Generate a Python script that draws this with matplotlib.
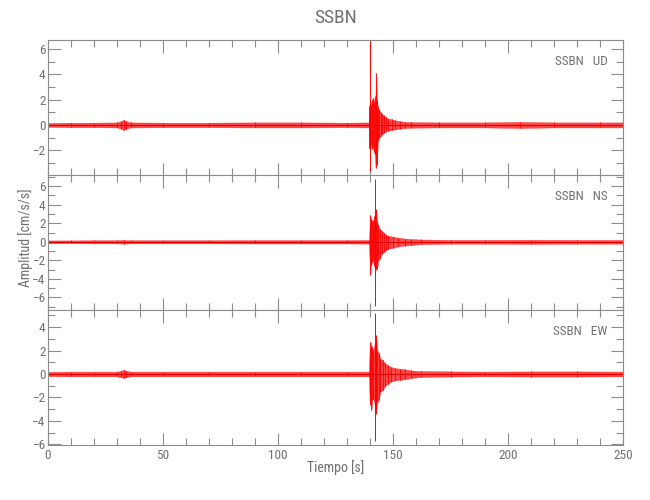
#Recreate the SSBN three-component accelerogram (UD, NS, EW)
#1. Envelope values. 2. Three stacked panels. 3. Axes styling. 4. Save.
import matplotlib
matplotlib.use("Agg")
import matplotlib.pyplot as plt
from matplotlib import font_manager
from matplotlib.ticker import MultipleLocator

# narrow, thin font if one is installed
names = {f.name for f in font_manager.fontManager.ttflist}
narrow = [n for n in ['Liberation Sans Narrow', 'Roboto Condensed', 'DejaVu Sans Condensed',
                      'Open Sans Condensed', 'Noto Sans Condensed'] if n in names]
if narrow:
    plt.rcParams['font.family'] = [narrow[0], 'DejaVu Sans']
else:
    plt.rcParams['font.family'] = ['Noto Sans', 'DejaVu Sans']
    plt.rcParams['font.stretch'] = 'condensed'
    plt.rcParams['font.weight'] = 'light'

# Step 1: data (time in s, upper / lower envelope in cm/s/s)
station = "SSBN"
components = ["UD", "NS", "EW"]

ud_t = [0, 10, 20, 30, 32, 33, 34, 36, 50, 70, 90, 110, 130, 139.4,
        139.7, 140.0, 140.4, 140.8, 141.2, 141.6, 142.0, 142.4, 142.7, 143.0,
        143.4, 144.0, 144.6, 145.2, 146.0, 147.0, 148.0, 149.5, 151.0, 153.0,
        155.0, 158.0, 170, 190, 205, 220, 240, 250]
ud_top = [0.15, 0.18, 0.18, 0.2, 0.3, 0.42, 0.3, 0.2, 0.18, 0.18, 0.2, 0.2, 0.18, 0.2,
          1.5, 1.8, 1.6, 2.0, 2.1, 1.8, 2.2, 2.4, 4.1, 2.0,
          1.4, 1.2, 1.0, 0.85, 0.75, 0.6, 0.5, 0.45, 0.35, 0.3,
          0.25, 0.22, 0.2, 0.2, 0.24, 0.2, 0.2, 0.2]
ud_bot = [-0.15, -0.18, -0.18, -0.2, -0.3, -0.42, -0.3, -0.2, -0.18, -0.18, -0.2, -0.2, -0.18, -0.2,
          -1.8, -2.0, -1.5, -1.9, -1.7, -2.1, -2.3, -3.4, -2.8, -3.2,
          -1.3, -1.0, -0.9, -0.75, -0.65, -0.5, -0.45, -0.4, -0.35, -0.3,
          -0.25, -0.22, -0.2, -0.2, -0.24, -0.2, -0.2, -0.2]

ns_t = [0, 10, 20, 30, 33, 36, 50, 70, 90, 110, 130, 139.5,
        139.9, 140.1, 140.5, 141.0, 141.5, 141.9, 142.3, 142.7, 143.1, 143.6,
        144.2, 145.0, 146.0, 147.0, 148.0, 150.0, 152.0, 155.0, 158.0, 162.0,
        175, 190, 210, 230, 250]
ns_top = [0.15, 0.15, 0.17, 0.17, 0.2, 0.17, 0.17, 0.17, 0.18, 0.18, 0.18, 0.2,
          2.0, 2.9, 2.5, 2.2, 2.3, 2.8, 3.2, 3.5, 2.1, 1.8,
          1.4, 1.2, 1.0, 0.75, 0.65, 0.55, 0.45, 0.35, 0.3, 0.25,
          0.2, 0.2, 0.22, 0.2, 0.2]
ns_bot = [-0.15, -0.15, -0.17, -0.17, -0.2, -0.17, -0.17, -0.17, -0.18, -0.18, -0.18, -0.2,
          -2.5, -3.6, -2.5, -2.2, -2.0, -2.6, -3.2, -2.9, -2.9, -2.0,
          -1.8, -1.3, -1.1, -0.9, -0.75, -0.65, -0.5, -0.4, -0.35, -0.25,
          -0.2, -0.2, -0.22, -0.2, -0.2]

ew_t = [0, 10, 20, 30, 32, 33, 34, 36, 50, 70, 90, 110, 130, 139.5,
        139.8, 140.2, 140.6, 141.0, 141.5, 142.0, 142.4, 142.8, 143.2, 143.8,
        144.5, 145.5, 146.6, 147.8, 149.0, 151.0, 153.0, 155.0, 158.0, 162.0,
        175, 190, 210, 230, 250]
ew_top = [0.18, 0.2, 0.2, 0.2, 0.28, 0.35, 0.28, 0.2, 0.2, 0.2, 0.2, 0.2, 0.2, 0.2,
          2.0, 2.75, 2.4, 2.3, 2.0, 2.6, 3.3, 3.0, 2.0, 1.8,
          1.3, 1.2, 0.9, 0.75, 0.6, 0.5, 0.45, 0.4, 0.3, 0.25,
          0.22, 0.2, 0.22, 0.22, 0.2]
ew_bot = [-0.18, -0.2, -0.2, -0.2, -0.28, -0.35, -0.28, -0.2, -0.2, -0.2, -0.2, -0.2, -0.2, -0.2,
          -2.2, -2.6, -3.1, -2.2, -2.1, -2.6, -3.4, -3.0, -2.4, -2.2,
          -1.5, -1.4, -1.0, -0.85, -0.65, -0.55, -0.5, -0.45, -0.35, -0.25,
          -0.22, -0.2, -0.22, -0.22, -0.2]

# single-sample peaks drawn as spikes
spike_t = [139.8, 142.0, 142.0]
spike_lo = [-3.6, -6.9, -5.7]
spike_hi = [6.7, 6.8, 5.2]

y_limits = [(-3.95, 6.7), (-7.35, 7.2), (-6.05, 5.45)]

# Step 2: figure with three stacked panels
fig = plt.figure(figsize=(6.5, 5), dpi=100)
gray = '#8c8c8c'
txt = '#707070'
tops = [0.92, 0.65, 0.38]
traces = [(ud_t, ud_top, ud_bot), (ns_t, ns_top, ns_bot), (ew_t, ew_top, ew_bot)]

for i, comp in enumerate(components):
    ax = fig.add_axes([0.0734, tops[i] - 0.27, 0.8855, 0.27])
    t, top, bot = traces[i]
    # envelope band plus a stroke at every read sample
    ax.fill_between(t, bot, top, color='#ff1a1a', lw=0.3, alpha=0.8)
    ax.vlines(t, bot, top, color='#ff0000', lw=0.6)
    ax.plot([0, 250], [0, 0], color='#e00000', lw=0.8)
    ax.vlines(spike_t[i], spike_lo[i], spike_hi[i], color='#ff0000', lw=0.7)
    ax.set_xlim(0, 250)
    ax.set_ylim(*y_limits[i])
    # Step 3: axes styling
    ax.xaxis.set_major_locator(MultipleLocator(50))
    ax.xaxis.set_minor_locator(MultipleLocator(10))
    ax.yaxis.set_major_locator(MultipleLocator(2))
    ax.yaxis.set_minor_locator(MultipleLocator(1))
    ax.tick_params(which='both', direction='in', top=True, right=True,
                   colors=gray, labelcolor=txt, labelsize=9.5, width=0.8)
    ax.tick_params(which='major', length=9, pad=1.5)
    ax.tick_params(which='minor', length=5)
    ax.tick_params(axis='x', pad=3)
    for s in ax.spines.values():
        s.set_color(gray)
        s.set_linewidth(0.8)
    if i < 2:
        ax.tick_params(labelbottom=False)
    ax.text(0.973, 0.84, station + "   " + comp, transform=ax.transAxes,
            ha='right', va='center', fontsize=9.5, color=txt)

fig.text(0.516, 0.964, station, ha='center', va='center', fontsize=14, color=txt)
fig.text(0.516, 0.064, 'Tiempo [s]', ha='center', va='center', fontsize=10, color=txt)
fig.text(0.040, 0.524, 'Amplitud [cm/s/s]', ha='center', va='center',
         rotation=90, fontsize=10, color=txt)

# Step 4: save
fig.savefig('out.png', dpi=100)
